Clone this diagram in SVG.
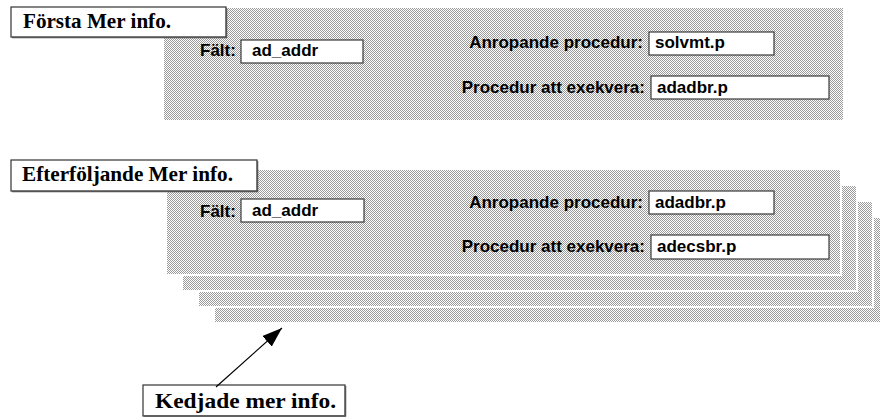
<svg xmlns="http://www.w3.org/2000/svg" width="880" height="417" viewBox="0 0 880 417">
<defs>
<pattern id="dither" patternUnits="userSpaceOnUse" width="2" height="2">
<rect width="2" height="2" fill="#ffffff"/>
<rect x="0" y="0" width="1" height="1" fill="#9a9a9a"/>
<rect x="1" y="1" width="1" height="1" fill="#9a9a9a"/>
</pattern>
<marker id="arrow" markerWidth="22" markerHeight="14" refX="20" refY="7" orient="auto" markerUnits="userSpaceOnUse">
<path d="M0,0 L20,7 L0,14 Z" fill="#000"/>
</marker>
<style>
.panel{fill:url(#dither)}
.stack{fill:url(#dither);stroke:#fff;stroke-width:2}
.lbl{font-family:"Liberation Sans",Arial,sans-serif;font-weight:bold;font-size:17px;fill:#000}
.val{font-family:"Liberation Sans",Arial,sans-serif;font-weight:bold;font-size:17px;fill:#000}
.field{fill:#fff;stroke:#3a3a3a;stroke-width:1.2}
.title{fill:#fff;stroke:#333;stroke-width:1.2}
.shadow{fill:none;stroke:#555;stroke-width:1.5}
.ttl{font-family:"Liberation Serif","Times New Roman",serif;font-weight:bold;font-size:21px;fill:#000}
.conn{stroke:#000;stroke-width:1.2;fill:none}
</style>
</defs>

<g id="panel-forsta">
<rect class="panel" x="164" y="8" width="679" height="112"/>
<text class="lbl" x="200" y="56">Fält:</text>
<rect class="field" x="241" y="40" width="122" height="23"/>
<text class="val" x="252" y="56">ad_addr</text>
<text class="lbl" x="643" y="48" text-anchor="end">Anropande procedur:</text>
<rect class="field" x="649" y="32" width="125" height="23"/>
<text class="val" x="655" y="48">solvmt.p</text>
<text class="lbl" x="645" y="93" text-anchor="end">Procedur att exekvera:</text>
<rect class="field" x="651" y="76" width="178" height="23"/>
<text class="val" x="657" y="93">adadbr.p</text>
</g>

<g id="title-forsta">
<rect class="title" x="11" y="7" width="215" height="30"/>
<path class="shadow" d="M12,37.5 H226.5 V8"/>
<text class="ttl" x="23" y="28" textLength="148" lengthAdjust="spacingAndGlyphs">Första Mer info.</text>
</g>

<g id="panel-stack">
<rect class="stack" x="214" y="217" width="680" height="106"/>
<rect class="stack" x="198" y="201" width="675" height="106"/>
<rect class="stack" x="182" y="185" width="675" height="106"/>
</g>

<g id="panel-efterfoljande">
<rect class="stack" x="166" y="169" width="675" height="106"/>
<text class="lbl" x="200" y="217">Fält:</text>
<rect class="field" x="241" y="199" width="123" height="23"/>
<text class="val" x="252" y="216">ad_addr</text>
<text class="lbl" x="643" y="208" text-anchor="end">Anropande procedur:</text>
<rect class="field" x="649" y="191" width="125" height="23"/>
<text class="val" x="655" y="208">adadbr.p</text>
<text class="lbl" x="645" y="252" text-anchor="end">Procedur att exekvera:</text>
<rect class="field" x="651" y="235" width="178" height="24"/>
<text class="val" x="657" y="252">adecsbr.p</text>
</g>

<g id="title-efterfoljande">
<rect class="title" x="11" y="160" width="246" height="31"/>
<path class="shadow" d="M12,191.5 H257.5 V161"/>
<text class="ttl" x="22" y="181" textLength="211" lengthAdjust="spacingAndGlyphs">Efterföljande Mer info.</text>
</g>

<g id="title-kedjade">
<rect class="title" x="143" y="385" width="202" height="31"/>
<path class="shadow" d="M144,416 H345.5 V386"/>
<text class="ttl" x="155" y="408" textLength="181" lengthAdjust="spacingAndGlyphs">Kedjade mer info.</text>
</g>

<g id="connectors">
<line class="conn" x1="216" y1="387" x2="282" y2="328" marker-end="url(#arrow)"/>
</g>
</svg>
